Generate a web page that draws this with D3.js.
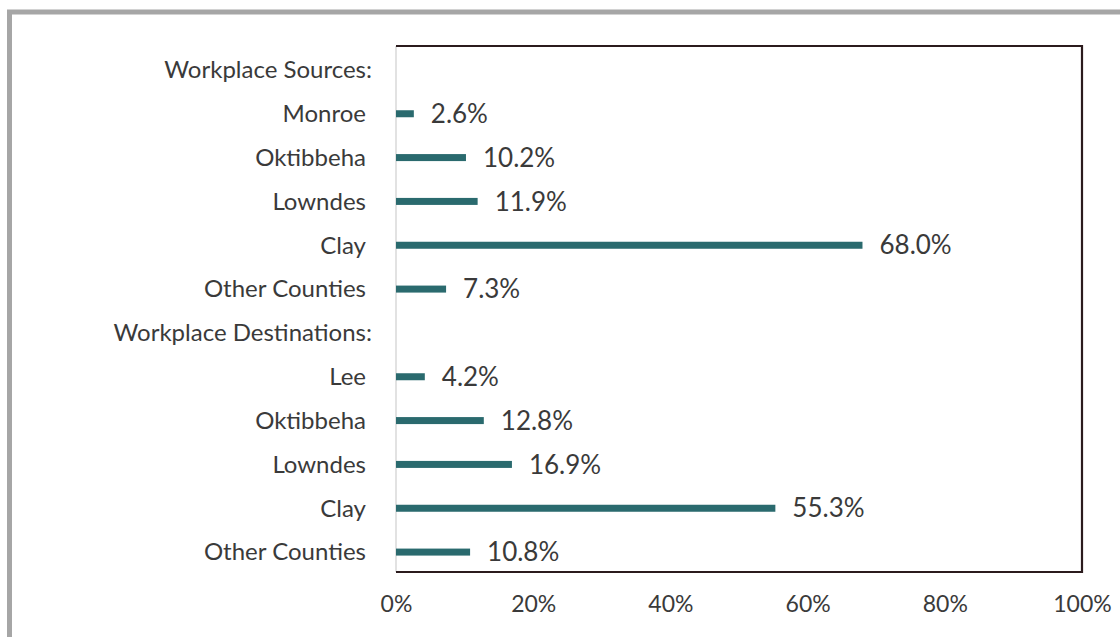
<!DOCTYPE html>
<html>
<head>
<meta charset="utf-8">
<script src="https://cdn.jsdelivr.net/npm/d3@7"></script>
<style>
  body { margin: 0; background: #fff; }
  text { font-family: Lato, "Open Sans", sans-serif; }
</style>
</head>
<body>
<script>
// data
const categories = ["Workplace Sources:", "Monroe", "Oktibbeha", "Lowndes", "Clay", "Other Counties",
  "Workplace Destinations:", "Lee", "Oktibbeha ", "Lowndes ", "Clay ", "Other Counties "];
const values = [null, 2.6, 10.2, 11.9, 68.0, 7.3, null, 4.2, 12.8, 16.9, 55.3, 10.8];
const tickValues = [0, 20, 40, 60, 80, 100];

const width = 1120, height = 637;
const margin = {top: 46, right: 38, bottom: 65, left: 396};

const svg = d3.select("body").append("svg")
  .attr("width", width)
  .attr("height", height);

// gray frame round the picture
svg.append("rect").attr("x", 0).attr("y", 0).attr("width", width).attr("height", height).attr("fill", "#fff");
svg.append("line").attr("x1", 7).attr("x2", width).attr("y1", 12).attr("y2", 12)
  .attr("stroke", "#a6a6a6").attr("stroke-width", 5);
svg.append("line").attr("x1", 9.5).attr("x2", 9.5).attr("y1", 10).attr("y2", height)
  .attr("stroke", "#a6a6a6").attr("stroke-width", 5);

let x = d3.scaleLinear().domain([0, 100]).range([margin.left, width - margin.right]);
let y = d3.scaleBand().domain(categories).range([margin.top, height - margin.bottom]).paddingInner(0).paddingOuter(0);

let plotW = x(100) - x(0), plotH = y.range()[1] - y.range()[0];

// plot border: light left edge, dark other sides
svg.append("line").attr("x1", x(0)).attr("x2", x(0)).attr("y1", margin.top).attr("y2", margin.top + plotH)
  .attr("stroke", "#d9d9d9").attr("stroke-width", 1.5);
svg.append("path")
  .attr("d", "M" + x(0) + "," + margin.top + "H" + x(100) + "V" + (margin.top + plotH) + "H" + x(0))
  .attr("fill", "none").attr("stroke", "#2b1b1d").attr("stroke-width", 2.2);

// bars
let rows = categories.map(function(c, i) { return {cat: c, v: values[i]}; });
let barH = 7;
svg.append("g").selectAll("rect")
  .data(rows.filter(function(d) { return d.v != null; }))
  .enter().append("rect")
  .attr("x", x(0))
  .attr("y", function(d) { return y(d.cat) + y.bandwidth() / 2 - barH / 2 + 2; })
  .attr("width", function(d) { return x(d.v) - x(0); })
  .attr("height", barH)
  .attr("fill", "#2a6a6e");

// value labels
svg.append("g").selectAll("text")
  .data(rows.filter(function(d) { return d.v != null; }))
  .enter().append("text")
  .attr("x", function(d) { return x(d.v) + 17; })
  .attr("y", function(d) { return y(d.cat) + y.bandwidth() / 2 + 2; })
  .attr("dy", "0.35em")
  .attr("font-size", 26)
  .attr("fill", "#3a3a3a")
  .text(function(d) { return d.v.toFixed(1) + "%"; });

// category labels (headers sit a little further right)
svg.append("g").selectAll("text")
  .data(rows)
  .enter().append("text")
  .attr("x", function(d) { return d.v == null ? x(0) - 24 : x(0) - 30; })
  .attr("y", function(d) { return y(d.cat) + y.bandwidth() / 2 + 2; })
  .attr("dy", "0.35em")
  .attr("text-anchor", "end")
  .attr("font-size", 24)
  .attr("fill", "#3a3a3a")
  .text(function(d) { return d.cat.trim(); });

// x axis
let xAxis = d3.axisBottom(x).tickValues(tickValues).tickSize(0).tickPadding(24)
  .tickFormat(function(d) { return d + "%"; });
let gx = svg.append("g")
  .attr("transform", "translate(0," + (margin.top + plotH) + ")")
  .call(xAxis);
gx.select(".domain").remove();
gx.selectAll("text").attr("font-size", 23).attr("fill", "#3a3a3a").style("font-family", "Lato, sans-serif");
</script>
</body>
</html>
